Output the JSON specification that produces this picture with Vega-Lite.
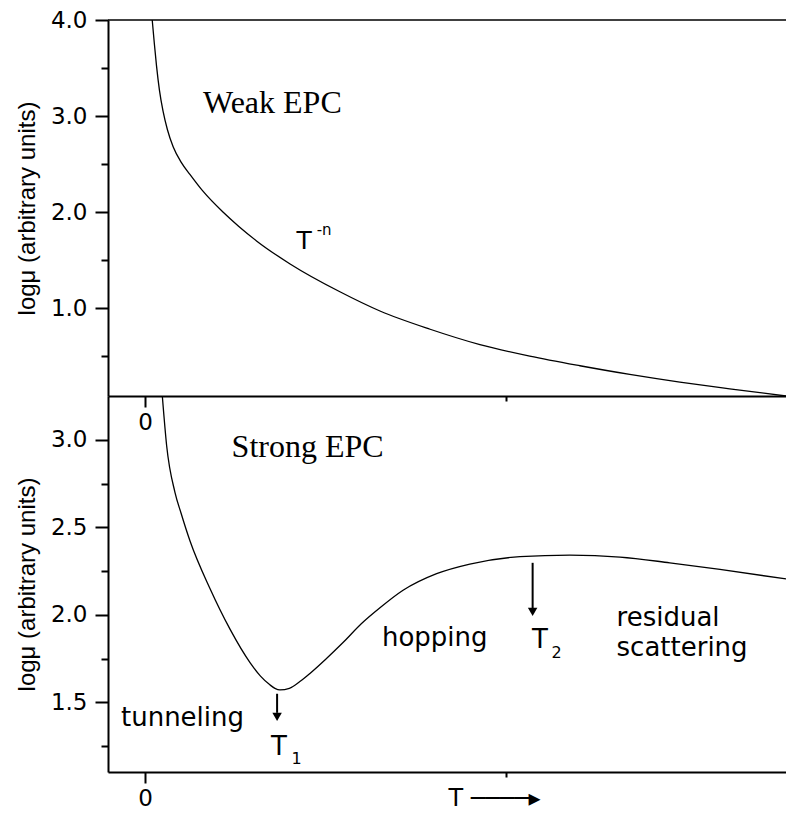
{
  "$schema": "https://vega.github.io/schema/vega-lite/v6.json",
  "padding": {"left": 15, "top": 9, "right": 0, "bottom": 0},
  "background": "white",
  "config": {
    "view": {"stroke": null},
    "axis": {
      "domainColor": "black", "domainWidth": 2, "tickColor": "black", "tickWidth": 2,
      "labelColor": "black", "titleColor": "black", "grid": false,
      "labelFont": "DejaVu Sans", "titleFontWeight": "normal"
    }
  },
  "datasets": {
    "top": [
      {"t": 0.020, "v": 4.00}, {"t": 0.026, "v": 3.75}, {"t": 0.032, "v": 3.52}, {"t": 0.040, "v": 3.27},
      {"t": 0.050, "v": 3.05}, {"t": 0.062, "v": 2.86}, {"t": 0.078, "v": 2.68}, {"t": 0.100, "v": 2.52},
      {"t": 0.125, "v": 2.39}, {"t": 0.160, "v": 2.22}, {"t": 0.216, "v": 2.00}, {"t": 0.260, "v": 1.85},
      {"t": 0.309, "v": 1.70}, {"t": 0.402, "v": 1.46}, {"t": 0.540, "v": 1.17}, {"t": 0.651, "v": 0.97},
      {"t": 0.790, "v": 0.78}, {"t": 0.928, "v": 0.62}, {"t": 1.066, "v": 0.50}, {"t": 1.205, "v": 0.40},
      {"t": 1.343, "v": 0.31}, {"t": 1.482, "v": 0.23}, {"t": 1.620, "v": 0.16}, {"t": 1.776, "v": 0.085}
    ],
    "bottom": [
      {"t": 0.048, "v": 3.25}, {"t": 0.060, "v": 2.966}, {"t": 0.083, "v": 2.70}, {"t": 0.100, "v": 2.58},
      {"t": 0.125, "v": 2.42}, {"t": 0.180, "v": 2.15}, {"t": 0.2355, "v": 1.918}, {"t": 0.291, "v": 1.727},
      {"t": 0.320, "v": 1.65}, {"t": 0.346, "v": 1.60}, {"t": 0.360, "v": 1.58}, {"t": 0.374, "v": 1.571},
      {"t": 0.400, "v": 1.58}, {"t": 0.430, "v": 1.62}, {"t": 0.457, "v": 1.665}, {"t": 0.500, "v": 1.745},
      {"t": 0.548, "v": 1.84}, {"t": 0.600, "v": 1.95}, {"t": 0.651, "v": 2.04}, {"t": 0.715, "v": 2.14},
      {"t": 0.808, "v": 2.235}, {"t": 0.900, "v": 2.29}, {"t": 1.039, "v": 2.332}, {"t": 1.177, "v": 2.341},
      {"t": 1.316, "v": 2.33}, {"t": 1.454, "v": 2.297}, {"t": 1.593, "v": 2.259}, {"t": 1.776, "v": 2.205}
    ],
    "topBorder": [{"t": -0.1025, "t2": 1.776, "v": 4.0}],
    "topSerif": [{"t": 0.1607, "v": 3.028, "label": "Weak EPC"}],
    "topSans": [{"t": 0.420, "v": 1.615, "label": "T"}],
    "topSup": [{"t": 0.4756, "v": 1.76, "label": "-n"}],
    "botSerif": [{"t": 0.240, "v": 2.899, "label": "Strong EPC"}],
    "botSans": [
      {"t": -0.0665, "v": 1.364, "label": "tunneling"},
      {"t": 0.349, "v": 1.2017, "label": "T"},
      {"t": 0.6565, "v": 1.821, "label": "hopping"},
      {"t": 1.072, "v": 1.811, "label": "T"},
      {"t": 1.3065, "v": 1.935, "label": "residual"},
      {"t": 1.3065, "v": 1.764, "label": "scattering"}
    ],
    "botSub": [
      {"t": 0.406, "v": 1.145, "label": "1"},
      {"t": 1.1265, "v": 1.754, "label": "2"}
    ],
    "arrows": [
      {"t": 0.366, "v": 1.549, "v2": 1.44},
      {"t": 1.074, "v": 2.297, "v2": 2.035}
    ],
    "heads": [
      {"t": 0.366, "v": 1.417},
      {"t": 1.074, "v": 2.017}
    ]
  },
  "vconcat": [
    {
      "width": 678, "height": 376,
      "encoding": {
        "x": {"field": "t", "type": "quantitative",
          "scale": {"domain": [-0.1025, 1.776], "nice": false, "zero": false},
          "axis": {"values": [0, 1], "title": null,
            "labelExpr": "datum.value === 0 ? '0' : ''",
            "tickSize": {"condition": {"test": "datum.value === 0", "value": 11}, "value": 5},
            "labelFontSize": 23, "labelPadding": 4}},
        "y": {"field": "v", "type": "quantitative",
          "scale": {"domain": [0.085, 4.0], "nice": false, "zero": false},
          "axis": {"values": [0.5, 1, 1.5, 2, 2.5, 3, 3.5, 4],
            "labelExpr": "datum.value % 1 === 0 ? format(datum.value, '.1f') : ''",
            "tickSize": {"condition": {"test": "datum.value % 1 === 0", "value": 13}, "value": 7},
            "labelFontSize": 23, "labelPadding": 8,
            "title": "logμ (arbitrary units)", "titleFont": "Liberation Sans", "titleFontSize": 24, "titlePadding": 11}}
      },
      "layer": [
        {
          "data": {"name": "top"},
          "mark": {"type": "line", "color": "black", "strokeWidth": 1.3, "interpolate": "monotone", "clip": true}
        },
        {
          "data": {"name": "topBorder"},
          "mark": {"type": "rule", "color": "black", "strokeWidth": 1.5},
          "encoding": {"x2": {"field": "t2"}}
        },
        {
          "data": {"name": "topSerif"},
          "mark": {"type": "text", "font": "Liberation Serif", "fontSize": 32, "align": "left", "baseline": "alphabetic", "color": "black"},
          "encoding": {"text": {"field": "label"}}
        },
        {
          "data": {"name": "topSans"},
          "mark": {"type": "text", "font": "DejaVu Sans", "fontSize": 25, "align": "left", "baseline": "alphabetic", "color": "black"},
          "encoding": {"text": {"field": "label"}}
        },
        {
          "data": {"name": "topSup"},
          "mark": {"type": "text", "font": "DejaVu Sans", "fontSize": 15, "align": "left", "baseline": "alphabetic", "color": "black"},
          "encoding": {"text": {"field": "label"}}
        }
      ]
    },
    {
      "width": 678, "height": 376,
      "encoding": {
        "x": {"field": "t", "type": "quantitative",
          "scale": {"domain": [-0.1025, 1.776], "nice": false, "zero": false},
          "axis": {"values": [0, 1], "title": "T ────▸", "titleFont": "DejaVu Sans", "titleFontSize": 24,
            "titleX": 340, "titleY": 33, "titleAlign": "left", "titleBaseline": "alphabetic",
            "labelExpr": "datum.value === 0 ? '0' : ''",
            "tickSize": {"condition": {"test": "datum.value === 0", "value": 11}, "value": 5},
            "labelFontSize": 23, "labelPadding": 4}},
        "y": {"field": "v", "type": "quantitative",
          "scale": {"domain": [1.102, 3.25], "nice": false, "zero": false},
          "axis": {"values": [1.25, 1.5, 1.75, 2, 2.25, 2.5, 2.75, 3],
            "labelExpr": "(datum.value * 2) % 1 === 0 ? format(datum.value, '.1f') : ''",
            "tickSize": {"condition": {"test": "(datum.value * 2) % 1 === 0", "value": 13}, "value": 7},
            "labelFontSize": 23, "labelPadding": 8,
            "title": "logμ (arbitrary units)", "titleFont": "Liberation Sans", "titleFontSize": 24, "titlePadding": 11}}
      },
      "layer": [
        {
          "data": {"name": "bottom"},
          "mark": {"type": "line", "color": "black", "strokeWidth": 1.3, "interpolate": "monotone", "clip": true}
        },
        {
          "data": {"name": "arrows"},
          "mark": {"type": "rule", "color": "black", "strokeWidth": 2},
          "encoding": {"y2": {"field": "v2"}}
        },
        {
          "data": {"name": "heads"},
          "mark": {"type": "point", "shape": "triangle-down", "size": 90, "filled": true, "color": "black", "opacity": 1, "strokeWidth": 0}
        },
        {
          "data": {"name": "botSerif"},
          "mark": {"type": "text", "font": "Liberation Serif", "fontSize": 32, "align": "left", "baseline": "alphabetic", "color": "black"},
          "encoding": {"text": {"field": "label"}}
        },
        {
          "data": {"name": "botSans"},
          "mark": {"type": "text", "font": "DejaVu Sans", "fontSize": 26, "align": "left", "baseline": "alphabetic", "color": "black"},
          "encoding": {"text": {"field": "label"}}
        },
        {
          "data": {"name": "botSub"},
          "mark": {"type": "text", "font": "DejaVu Sans", "fontSize": 16, "align": "left", "baseline": "alphabetic", "color": "black"},
          "encoding": {"text": {"field": "label"}}
        }
      ]
    }
  ],
  "spacing": 0,
  "bounds": "flush"
}
